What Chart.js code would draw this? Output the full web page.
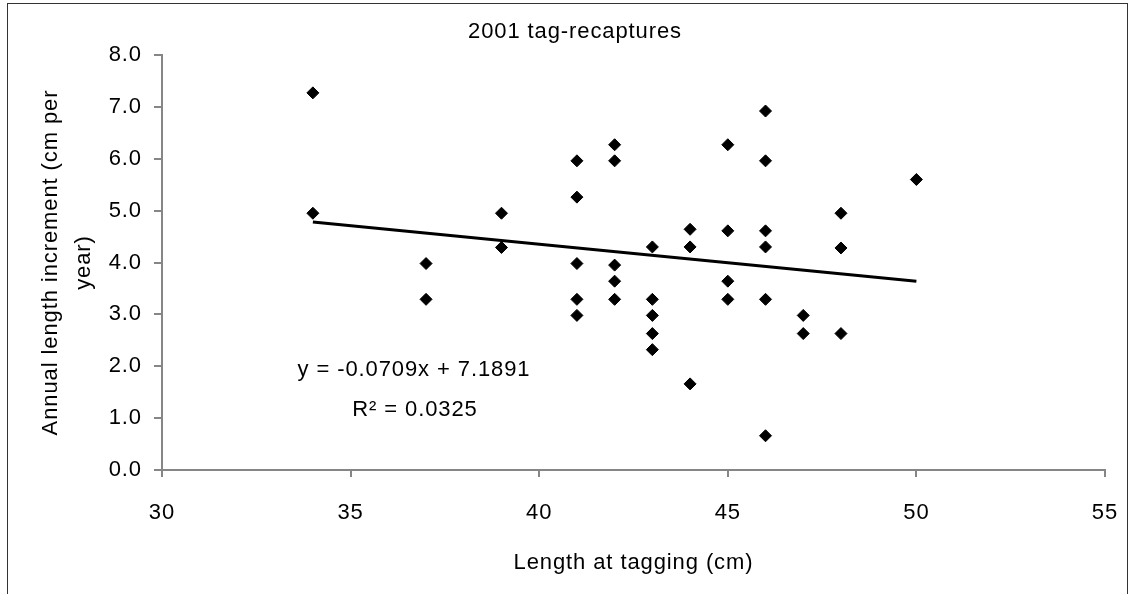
<!DOCTYPE html>
<html>
<head>
<meta charset="utf-8">
<script src="https://cdn.jsdelivr.net/npm/chart.js@4/dist/chart.umd.min.js"></script>
<style>
  html, body { margin: 0; padding: 0; background: #fff; }
  #wrap { width: 1133px; height: 594px; position: relative; }
</style>
</head>
<body>
<div id="wrap"><canvas id="tagChart"></canvas></div>
<script>
// values
const lengthAtTagging = [34, 34, 37, 37, 39, 39, 41, 41, 41, 41, 41, 42, 42, 42, 42, 42,
    43, 43, 43, 43, 43, 44, 44, 44, 45, 45, 45, 45, 46, 46, 46, 46, 46, 46, 47, 47, 48, 48, 48, 50];
const annualIncrement = [7.27, 4.95, 3.98, 3.29, 4.95, 4.29, 5.96, 5.26, 3.98, 3.29, 2.98,
    6.27, 5.96, 3.95, 3.64, 3.29, 4.30, 3.29, 2.98, 2.63, 2.32, 4.64, 4.30, 1.66,
    6.27, 4.61, 3.64, 3.29, 6.92, 5.96, 4.61, 4.30, 3.29, 0.66, 2.98, 2.63, 4.95, 4.28, 2.63, 5.60];
const trendX = [34, 50];
const trendY = [4.78, 3.64];
const xTicks = [30, 35, 40, 45, 50, 55];
const yTicks = [0, 1, 2, 3, 4, 5, 6, 7, 8];

const FONT = "'Liberation Sans', Arial, sans-serif";
const FONT_SIZE = 22;
const AXIS_GREY = '#868686';

const extraText = {
    id: 'extraText',
    beforeDraw(chart) {
        const ctx = chart.ctx;
        ctx.letterSpacing = '0.9px';   // excel text runs a bit wide
        ctx.save();
        ctx.strokeStyle = '#333';
        ctx.lineWidth = 1;
        ctx.strokeRect(7.5, 3.5, 1120, 600);
        ctx.restore();
    },
    afterDraw(chart) {
        const ctx = chart.ctx;
        ctx.save();
        ctx.fillStyle = '#000';
        ctx.font = FONT_SIZE + 'px ' + FONT;
        ctx.textAlign = 'center';
        ctx.textBaseline = 'middle';
        ctx.fillText('2001 tag-recaptures', 575, 32);
        ctx.fillText('y = -0.0709x + 7.1891', 414, 370);
        ctx.fillText('R\u00B2 = 0.0325', 415, 410);
        ctx.restore();
    }
};

// keep the plot box fixed: 162..1105 across, 55..470 down
function noPad(s) {
    s.paddingLeft = 0; s.paddingRight = 0; s.paddingTop = 0; s.paddingBottom = 0;
}

new Chart(document.getElementById('tagChart').getContext('2d'), {
    type: 'scatter',
    data: {
        datasets: [{
            type: 'line',
            data: trendX.map((x, i) => ({ x: x, y: trendY[i] })),
            borderColor: '#000', borderWidth: 3, pointRadius: 0, fill: false, order: 0
        }, {
            data: lengthAtTagging.map((x, i) => ({ x: x, y: annualIncrement[i] })),
            pointStyle: 'rectRot', pointRadius: 6, pointHoverRadius: 6,
            backgroundColor: '#000', borderColor: '#000', borderWidth: 1, order: 1
        }]
    },
    options: {
        responsive: true, maintainAspectRatio: false, animation: false,
        layout: { padding: { left: 0, top: 55, right: 28, bottom: 0 } },
        plugins: { legend: { display: false }, tooltip: { enabled: false } },
        scales: {
            x: {
                type: 'linear', min: 30, max: 55,
                afterBuildTicks: s => { s.ticks = xTicks.map(v => ({ value: v })); },
                afterFit: s => { s.height = 124; noPad(s); },
                grid: { drawOnChartArea: false, tickLength: 7, color: AXIS_GREY, lineWidth: 2 },
                border: { color: AXIS_GREY, width: 2 },
                ticks: { color: '#000', font: { family: FONT, size: FONT_SIZE }, padding: 23, maxRotation: 0 },
                title: { display: true, text: 'Length at tagging (cm)', color: '#000',
                    font: { family: FONT, size: FONT_SIZE }, padding: { top: 0, bottom: 18 } }
            },
            y: {
                min: 0, max: 8,
                afterBuildTicks: s => { s.ticks = yTicks.map(v => ({ value: v })); },
                afterFit: s => { s.width = 162; noPad(s); },
                grid: { drawOnChartArea: false, tickLength: 8, color: AXIS_GREY, lineWidth: 2 },
                border: { color: AXIS_GREY, width: 2 },
                ticks: { color: '#000', font: { family: FONT, size: FONT_SIZE }, padding: 12,
                    callback: v => v.toFixed(1) },
                title: { display: true, text: ['Annual length increment (cm per', 'year)'], color: '#000',
                    font: { family: FONT, size: FONT_SIZE, lineHeight: 1.5 }, padding: { top: 34, bottom: 0 } }
            }
        }
    },
    plugins: [extraText]
});
</script>
</body>
</html>
